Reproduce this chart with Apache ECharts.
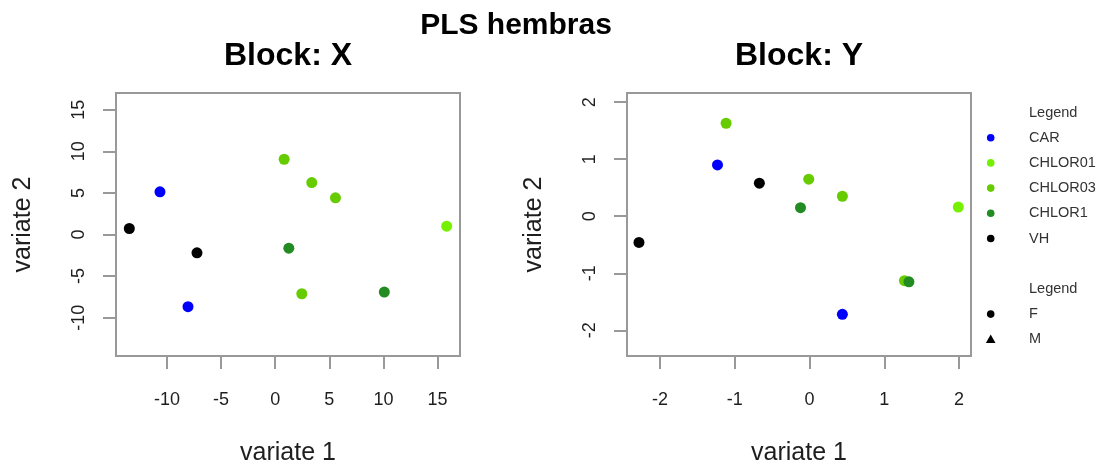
<!DOCTYPE html>
<html>
<head>
<meta charset="utf-8">
<script src="https://cdn.jsdelivr.net/npm/echarts@6/dist/echarts.min.js"></script>
<style>
  html, body { margin: 0; padding: 0; background: #ffffff; }
  #chart { width: 1118px; height: 462px; }
</style>
</head>
<body>
<div id="chart"></div>
<script>
// Treatment groups and their colours
const groupNames = ['CAR', 'CHLOR01', 'CHLOR03', 'CHLOR1', 'VH'];
const groupColors = ['#0000ff', '#74f000', '#66cc00', '#228b22', '#000000'];

// Group of every sample (females only)
const sampleGroup = ['CAR', 'CAR', 'VH', 'VH', 'CHLOR01',
                     'CHLOR03', 'CHLOR03', 'CHLOR03', 'CHLOR03', 'CHLOR1', 'CHLOR1'];

// Sample scores, block X
const blockX_var1 = [-10.64, -8.05, -13.47, -7.22, 15.84, 0.83, 3.38, 5.57, 2.46, 1.26, 10.08];
const blockX_var2 = [5.12, -8.68, 0.72, -2.20, 1.00, 9.04, 6.24, 4.40, -7.12, -1.64, -6.92];

// Sample scores, block Y
const blockY_var1 = [-1.23, 0.44, -2.28, -0.67, 1.99, -1.115, -0.01, 0.44, 1.27, -0.12, 1.33];
const blockY_var2 = [0.90, -1.72, -0.46, 0.58, 0.16, 1.63, 0.65, 0.35, -1.13, 0.15, -1.15];

// Tick values
const ticksX_var1 = [-10, -5, 0, 5, 10, 15];
const ticksX_var2 = [-10, -5, 0, 5, 10, 15];
const ticksY_var1 = [-2, -1, 0, 1, 2];
const ticksY_var2 = [-2, -1, 0, 1, 2];

// Second legend: sex symbols
const sexNames = ['F', 'M'];
const sexSymbols = ['circle', 'triangle'];

const FONT = '"Liberation Sans", Arial, Helvetica, sans-serif';
const GRAY = '#999999';
const TXT = '#1e1e1e';

function axisX(gridIndex, min, max, ticks) {
  return {
    type: 'value', gridIndex, min, max,
    name: 'variate 1', nameLocation: 'middle', nameGap: 85,
    nameTextStyle: { fontSize: 25, color: TXT, fontFamily: FONT },
    axisLine: { show: false, onZero: false },
    axisTick: { show: true, length: 13, customValues: ticks, lineStyle: { color: GRAY, width: 2 } },
    axisLabel: { customValues: ticks, fontSize: 18, margin: 35, color: TXT, fontFamily: FONT },
    splitLine: { show: false }
  };
}
function axisY(gridIndex, min, max, ticks) {
  return {
    type: 'value', gridIndex, min, max,
    name: 'variate 2', nameLocation: 'middle', nameGap: 80,
    nameTextStyle: { fontSize: 25, color: TXT, fontFamily: FONT },
    axisLine: { show: false, onZero: false },
    axisTick: { show: true, length: 13, customValues: ticks, lineStyle: { color: GRAY, width: 2 } },
    axisLabel: { customValues: ticks, fontSize: 18, margin: 28, rotate: 90, color: TXT, fontFamily: FONT },
    splitLine: { show: false }
  };
}

const series = [];
function addBlock(idx, v1, v2) {
  groupNames.forEach((g, gi) => {
    const data = [];
    sampleGroup.forEach((s, i) => { if (s === g) data.push([v1[i], v2[i]]); });
    series.push({
      type: 'scatter', name: g, xAxisIndex: idx, yAxisIndex: idx,
      symbol: 'circle', symbolSize: 11, data,
      itemStyle: { color: groupColors[gi], opacity: 1 },
      emphasis: { disabled: true }
    });
  });
}
addBlock(0, blockX_var1, blockX_var2);
addBlock(1, blockY_var1, blockY_var2);

// Legend panel drawn at the right margin
const graphics = [];
const legX = 990.7, legTextX = 1029, legY0 = 112.5, legStep = 25.2;
function legendText(text, y) {
  graphics.push({ type: 'text', x: legTextX, y,
    style: { text, font: '14.5px ' + FONT, fill: '#333', textAlign: 'left', textVerticalAlign: 'middle' } });
}
legendText('Legend', legY0);
groupNames.forEach((g, i) => {
  const y = legY0 + legStep * (i + 1);
  graphics.push({ type: 'circle', shape: { cx: legX, cy: y, r: 3.8 }, style: { fill: groupColors[i] } });
  legendText(g, y);
});
legendText('Legend', legY0 + legStep * 7);
sexNames.forEach((s, i) => {
  const y = legY0 + legStep * (8 + i);
  if (sexSymbols[i] === 'circle') {
    graphics.push({ type: 'circle', shape: { cx: legX, cy: y, r: 3.8 }, style: { fill: '#000' } });
  } else {
    graphics.push({ type: 'polygon', shape: { points: [[legX, y - 4.8], [legX - 4.8, y + 3.6], [legX + 4.8, y + 3.6]] }, style: { fill: '#000' } });
  }
  legendText(s, y);
});

// Titles
function title(text, x, y, size) {
  graphics.push({ type: 'text', x, y,
    style: { text, font: 'bold ' + size + 'px ' + FONT, fill: '#000', textAlign: 'center', textVerticalAlign: 'middle' } });
}
title('PLS hembras', 516, 26, 30);
title('Block: X', 288, 56, 32);
title('Block: Y', 799, 56, 32);

const chart = echarts.init(document.getElementById('chart'), null, { renderer: 'canvas' });
chart.setOption({
  animation: false,
  backgroundColor: '#ffffff',
  grid: [
    { left: 116, top: 93, width: 344, height: 263, show: true, borderColor: GRAY, borderWidth: 2,
      backgroundColor: 'transparent', containLabel: false, outerBoundsMode: 'none' },
    { left: 627, top: 93, width: 344, height: 263, show: true, borderColor: GRAY, borderWidth: 2,
      backgroundColor: 'transparent', containLabel: false, outerBoundsMode: 'none' }
  ],
  xAxis: [axisX(0, -14.7, 17.07, ticksX_var1), axisX(1, -2.44, 2.16, ticksY_var1)],
  yAxis: [axisY(0, -14.6, 17.0, ticksX_var2), axisY(1, -2.45, 2.16, ticksY_var2)],
  series,
  graphic: graphics
});
</script>
</body>
</html>
